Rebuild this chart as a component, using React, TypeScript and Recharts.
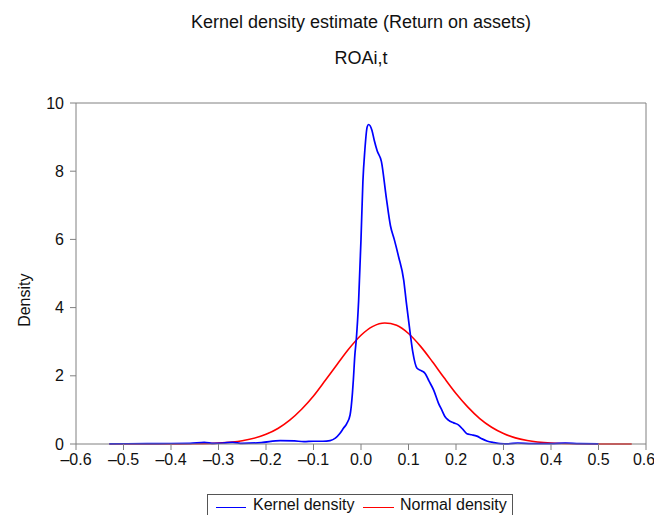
import { LineChart, Line, XAxis, YAxis, ReferenceLine } from 'recharts';

// Kernel density estimate of ROA
const kernelX = [
  -0.53, -0.45, -0.4, -0.36, -0.33, -0.31, -0.29, -0.27, -0.25, -0.21, -0.17, -0.14, -0.12, -0.1,
  -0.08, -0.065, -0.054, -0.045, -0.037, -0.03, -0.023, -0.018, -0.016, -0.013, -0.01, -0.005, 0,
  0.004, 0.008, 0.013, 0.016, 0.023, 0.028, 0.034, 0.043, 0.053, 0.062, 0.07, 0.079, 0.09, 0.095,
  0.104, 0.109, 0.118, 0.127, 0.135, 0.143, 0.153, 0.163, 0.17, 0.177, 0.184, 0.195, 0.205, 0.215,
  0.223, 0.233, 0.244, 0.255, 0.265, 0.28, 0.293, 0.31, 0.33, 0.36, 0.4, 0.43, 0.46, 0.5,
];
const kernelY = [
  0.005, 0.01, 0.015, 0.02, 0.05, 0.02, 0.03, 0.05, 0.02, 0.04, 0.1, 0.09, 0.07, 0.08,
  0.08, 0.1, 0.17, 0.3, 0.46, 0.6, 0.85, 1.5, 1.9, 2.6, 3.05, 4.2, 6.0,
  7.7, 8.6, 9.3, 9.37, 9.2, 8.9, 8.6, 8.28, 7.25, 6.4, 6.0, 5.5, 4.8, 4.2,
  3.2, 2.7, 2.22, 2.15, 2.07, 1.85, 1.58, 1.2, 1.0, 0.8, 0.7, 0.62, 0.56, 0.42,
  0.3, 0.27, 0.23, 0.15, 0.09, 0.04, 0.01, 0.005, 0.03, 0.01, 0.01, 0.03, 0.01, 0.005,
];

// Normal density with the same mean / sd
const normalX = [
  -0.53, -0.45, -0.4, -0.35, -0.3, -0.25, -0.2, -0.175, -0.15, -0.125, -0.1, -0.075, -0.05, -0.025,
  0, 0.025, 0.05, 0.075, 0.1, 0.125, 0.15, 0.175, 0.2, 0.225, 0.25, 0.275, 0.3, 0.325, 0.35, 0.4,
  0.45, 0.5, 0.57,
];
const normalY = [
  0, 0.0002, 0.001, 0.006, 0.025, 0.094, 0.283, 0.455, 0.7, 1.02, 1.41, 1.87, 2.34, 2.8,
  3.19, 3.45, 3.55, 3.48, 3.24, 2.87, 2.42, 1.94, 1.48, 1.08, 0.744, 0.49, 0.306, 0.18, 0.103, 0.028,
  0.006, 0.001, 0,
];

const xTicks = [-0.6, -0.5, -0.4, -0.3, -0.2, -0.1, 0, 0.1, 0.2, 0.3, 0.4, 0.5, 0.6];
const yTicks = [0, 2, 4, 6, 8, 10];

const kernelData = kernelX.map((x, i) => ({ x, kernel: kernelY[i] }));
const normalData = normalX.map((x, i) => ({ x, normal: normalY[i] }));

const FONT = '"Liberation Sans", Arial, sans-serif';
const AXIS = '#808080';

const formatX = (v: number) => (v < 0 ? '\u2013' : '') + Math.abs(v).toFixed(1);

export default function App() {
  return (
    <div style={{ position: 'absolute', left: 0, top: 0, width: 654, height: 515, overflow: 'hidden', background: '#fff', fontFamily: FONT }}>
      <div style={{ position: 'absolute', left: 76, width: 570, top: 12, textAlign: 'center', fontSize: 18, color: '#111' }}>
        Kernel density estimate (Return on assets)
      </div>
      <div style={{ position: 'absolute', left: 76, width: 570, top: 48, textAlign: 'center', fontSize: 18, color: '#111' }}>
        ROAi,t
      </div>

      <LineChart width={654} height={515} margin={{ top: 103, right: 8, bottom: 41, left: 26 }}>
        <XAxis
          type="number"
          dataKey="x"
          domain={[-0.6, 0.6]}
          ticks={xTicks}
          tickFormatter={formatX}
          allowDataOverflow
          height={30}
          stroke={AXIS}
          tickSize={6}
          tickMargin={4}
          tick={{ fill: '#111', fontSize: 16, fontFamily: FONT }}
        />
        <YAxis
          type="number"
          domain={[0, 10]}
          ticks={yTicks}
          width={50}
          stroke={AXIS}
          tickSize={6}
          tickMargin={6}
          tick={{ fill: '#111', fontSize: 16, fontFamily: FONT }}
          label={{ value: 'Density', angle: -90, position: 'left', offset: 2, fill: '#111', fontSize: 16, fontFamily: FONT }}
        />
        <ReferenceLine y={10} stroke={AXIS} />
        <ReferenceLine x={0.6} stroke={AXIS} />
        <Line
          data={normalData}
          dataKey="normal"
          name="Normal density"
          type="monotone"
          stroke="#ff0000"
          strokeWidth={1.6}
          dot={false}
          isAnimationActive={false}
        />
        <Line
          data={kernelData}
          dataKey="kernel"
          name="Kernel density"
          type="monotone"
          stroke="#0000ff"
          strokeWidth={1.7}
          dot={false}
          isAnimationActive={false}
        />
      </LineChart>

      <div style={{ position: 'absolute', left: 207, top: 494, width: 306, height: 30, border: '1px solid #555', boxSizing: 'border-box', fontSize: 16, color: '#111' }}>
        <div style={{ position: 'absolute', left: 8, top: 12, width: 30, height: 0, borderTop: '1.5px solid #0000ff' }} />
        <div style={{ position: 'absolute', left: 45, top: 1, whiteSpace: 'nowrap' }}>Kernel density</div>
        <div style={{ position: 'absolute', left: 155, top: 12, width: 31, height: 0, borderTop: '1.5px solid #ff0000' }} />
        <div style={{ position: 'absolute', left: 192, top: 1, whiteSpace: 'nowrap' }}>Normal density</div>
      </div>
    </div>
  );
}
